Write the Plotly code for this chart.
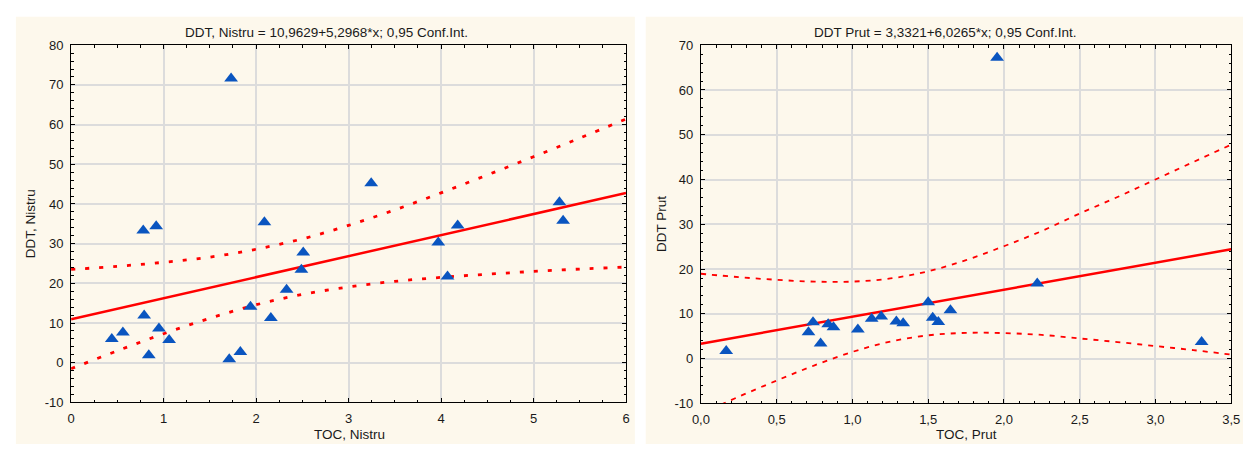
import plotly.graph_objects as go

# ---- Left panel: Nistru ----
toc_nistru = [0.44, 0.56, 0.79, 0.84, 0.95, 1.06, 0.78, 0.92, 1.71, 1.83, 1.94, 2.16,
              2.33, 2.49, 2.51, 2.09, 1.73, 3.245, 4.18, 3.97, 4.07, 5.28, 5.32]
ddt_nistru = [6.0, 7.6, 11.9, 1.9, 8.6, 5.7, 33.3, 34.4, 0.9, 2.7, 14.1, 11.3,
              18.4, 23.4, 27.8, 35.4, 71.6, 45.2, 34.6, 30.3, 21.7, 40.4, 35.8]
nistru_intercept = 10.9629
nistru_slope = 5.2968
ci_x_nistru = [0, 0.5, 1, 1.5, 2, 2.5, 3, 3.5, 4, 4.5, 5, 5.5, 6]
ci_up_nistru = [23.5, 24.3, 25.3, 26.6, 28.6, 31.2, 34.6, 38.5, 42.8, 47.3, 51.9, 56.6, 61.4]
ci_lo_nistru = [-1.5, 3.0, 7.3, 11.2, 14.6, 17.2, 19.1, 20.5, 21.5, 22.3, 23.0, 23.6, 24.1]
ytick_vals_nistru = [-10, 0, 10, 20, 30, 40, 50, 60, 70, 80]
ytick_text_nistru = ["-10", "0", "10", "20", "30", "40", "50", "60", "70", "80"]

# ---- Right panel: Prut ----
toc_prut = [0.167, 0.71, 0.74, 0.79, 0.84, 0.875, 1.036, 1.127, 1.19, 1.29, 1.335,
            1.50, 1.53, 1.567, 1.647, 2.22, 3.305, 1.955]
ddt_prut = [1.7, 5.9, 8.1, 3.4, 7.7, 7.0, 6.5, 8.9, 9.4, 8.3, 7.9,
            12.6, 9.1, 8.2, 10.8, 16.8, 3.7, 67.2]
prut_intercept = 3.3321
prut_slope = 6.0265
ci_x_prut = [0, 0.25, 0.5, 0.75, 1.0, 1.25, 1.5, 1.75, 2.0, 2.25, 2.5, 2.75, 3.0, 3.25, 3.5]
ci_up_prut = [18.95, 18.2, 17.6, 17.2, 17.2, 17.9, 19.5, 22.0, 25.1, 28.5, 32.4, 36.1, 40.0, 43.9, 47.8]
ci_lo_prut = [-12.3, -8.5, -4.9, -1.5, 1.5, 3.8, 5.2, 5.75, 5.7, 5.3, 4.5, 3.7, 2.8, 1.9, 0.9]
ytick_vals_prut = [-10, 0, 10, 20, 30, 40, 50, 60, 70]
ytick_text_prut = ["-10", "0", "10", "20", "30", "40", "50", "60", "70"]

W, H = 1252, 452
RED = "#ff0000"
BLUE = "#0a55c0"
CREAM = "#fdf8ec"
FONT = "Liberation Sans, Arial, sans-serif"
TXT = "#1a1a1a"

fig = go.Figure()

# left
lx = [0, 6]
fig.add_trace(go.Scatter(x=ci_x_nistru, y=ci_up_nistru, mode="lines", line=dict(color=RED, width=2.8, dash="4px,10px", shape="spline"), xaxis="x", yaxis="y", showlegend=False))
fig.add_trace(go.Scatter(x=ci_x_nistru, y=ci_lo_nistru, mode="lines", line=dict(color=RED, width=2.8, dash="4px,10px", shape="spline"), xaxis="x", yaxis="y", showlegend=False))
fig.add_trace(go.Scatter(x=lx, y=[nistru_intercept + nistru_slope * v for v in lx], mode="lines", line=dict(color=RED, width=2.5), xaxis="x", yaxis="y", showlegend=False))
fig.add_trace(go.Scatter(x=toc_nistru, y=ddt_nistru, mode="markers", marker=dict(symbol="triangle-up", size=12, color=BLUE, line=dict(width=0)), xaxis="x", yaxis="y", showlegend=False))

# right
rx = [0, 3.5]
fig.add_trace(go.Scatter(x=ci_x_prut, y=ci_up_prut, mode="lines", line=dict(color=RED, width=1.8, dash="5px,6px", shape="spline"), xaxis="x2", yaxis="y2", showlegend=False))
fig.add_trace(go.Scatter(x=ci_x_prut, y=ci_lo_prut, mode="lines", line=dict(color=RED, width=1.8, dash="5px,6px", shape="spline"), xaxis="x2", yaxis="y2", showlegend=False))
fig.add_trace(go.Scatter(x=rx, y=[prut_intercept + prut_slope * v for v in rx], mode="lines", line=dict(color=RED, width=2.5), xaxis="x2", yaxis="y2", showlegend=False))
fig.add_trace(go.Scatter(x=toc_prut, y=ddt_prut, mode="markers", marker=dict(symbol="triangle-up", size=12, color=BLUE, line=dict(width=0)), xaxis="x2", yaxis="y2", showlegend=False))

def px_x(p):
    return p / W

def px_y(p):
    return 1 - p / H

tickfont = dict(family=FONT, size=13, color=TXT)
common = dict(showline=True, linecolor="black", linewidth=1, mirror="allticks",
              ticks="inside", ticklen=4, tickcolor="black", showgrid=True,
              gridcolor="#dcdcdc", gridwidth=1.5, zeroline=False, tickfont=tickfont,
              ticklabelstandoff=4)

fig.update_layout(
    width=W, height=H, margin=dict(l=0, r=0, t=0, b=0),
    paper_bgcolor="white", plot_bgcolor="white",
    separators=", ",
    font=dict(family=FONT, size=13, color=TXT),
    xaxis=dict(domain=[px_x(63), px_x(626)], range=[0, 6], dtick=1, anchor="y",
               minor=dict(ticks="inside", ticklen=2.5, dtick=0.25, tickcolor="black", showgrid=False), **common),
    yaxis=dict(domain=[px_y(409), px_y(39.5)], range=[-10, 80], tickvals=ytick_vals_nistru, ticktext=ytick_text_nistru, anchor="x",
               minor=dict(ticks="inside", ticklen=2.5, dtick=2, tickcolor="black", showgrid=False), **common),
    xaxis2=dict(domain=[px_x(702), px_x(1240)], range=[0, 3.5], dtick=0.5, tickformat=".1f", anchor="y2",
                minor=dict(ticks="inside", ticklen=2.5, dtick=0.1, tickcolor="black", showgrid=False), **common),
    yaxis2=dict(domain=[px_y(410), px_y(39.5)], range=[-10, 70], tickvals=ytick_vals_prut, ticktext=ytick_text_prut, anchor="x2",
                minor=dict(ticks="inside", ticklen=2.5, dtick=2, tickcolor="black", showgrid=False), **common),
    shapes=[
        dict(type="rect", xref="paper", yref="paper", x0=px_x(7), x1=px_x(635), y0=0, y1=px_y(10),
             fillcolor=CREAM, line=dict(width=0), layer="below"),
        dict(type="rect", xref="paper", yref="paper", x0=px_x(646), x1=1, y0=0, y1=px_y(10),
             fillcolor=CREAM, line=dict(width=0), layer="below"),
    ],
    annotations=[
        dict(text="DDT, Nistru = 10,9629+5,2968*x; 0,95 Conf.Int.", x=px_x(322), y=px_y(26.5), xref="paper", yref="paper",
             showarrow=False, xanchor="center", yanchor="middle", font=dict(family=FONT, size=13.5, color=TXT)),
        dict(text="DDT Prut = 3,3321+6,0265*x; 0,95 Conf.Int.", x=px_x(950), y=px_y(26.5), xref="paper", yref="paper",
             showarrow=False, xanchor="center", yanchor="middle", font=dict(family=FONT, size=13.5, color=TXT)),
        dict(text="TOC, Nistru", x=px_x(345), y=px_y(442), xref="paper", yref="paper",
             showarrow=False, xanchor="center", yanchor="middle", font=dict(family=FONT, size=13.5, color=TXT)),
        dict(text="TOC, Prut", x=px_x(971), y=px_y(442), xref="paper", yref="paper",
             showarrow=False, xanchor="center", yanchor="middle", font=dict(family=FONT, size=13.5, color=TXT)),
        dict(text="DDT, Nistru", x=px_x(22), y=px_y(224), xref="paper", yref="paper", textangle=-90,
             showarrow=False, xanchor="center", yanchor="middle", font=dict(family=FONT, size=13.5, color=TXT)),
        dict(text="DDT Prut", x=px_x(662), y=px_y(224), xref="paper", yref="paper", textangle=-90,
             showarrow=False, xanchor="center", yanchor="middle", font=dict(family=FONT, size=13.5, color=TXT)),
    ],
)

fig.write_html("out.html")
